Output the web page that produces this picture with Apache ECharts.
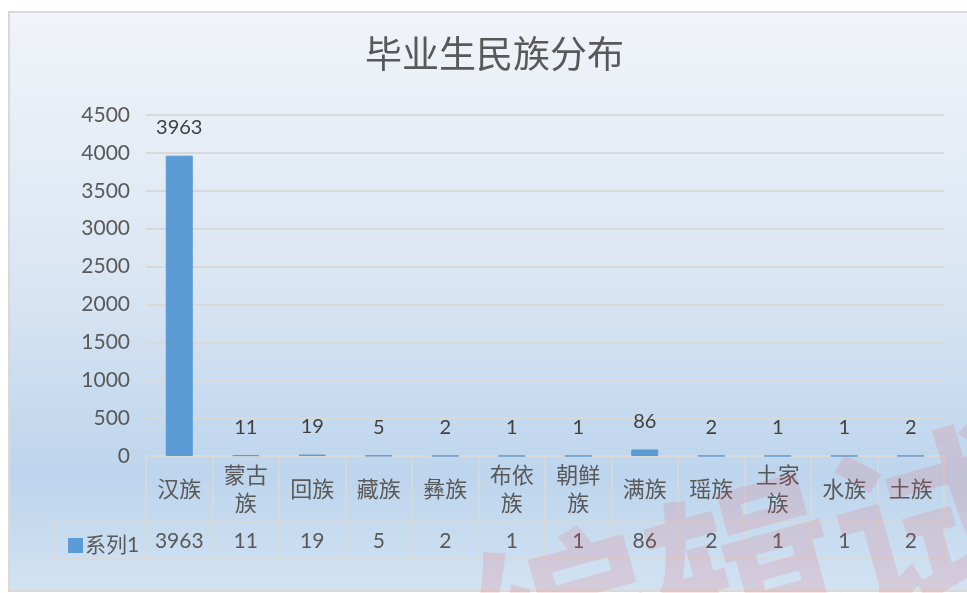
<!DOCTYPE html>
<html>
<head>
<meta charset="utf-8">
<script src="https://cdn.jsdelivr.net/npm/echarts@6/dist/echarts.min.js"></script>
<style>
html,body{margin:0;padding:0;background:#fff;}
#c{width:967px;height:593px;}
</style>
</head>
<body>
<div id="c"></div>
<script>
var categories = ['汉族','蒙古族','回族','藏族','彝族','布依族','朝鲜族','满族','瑶族','土家族','水族','土族'];
var categoryLabels = ['汉族','蒙古\n族','回族','藏族','彝族','布依\n族','朝鲜\n族','满族','瑶族','土家\n族','水族','土族'];
var values = [3963, 11, 19, 5, 2, 1, 1, 86, 2, 1, 1, 2];
var seriesName = '系列1';
var yTicks = [0, 500, 1000, 1500, 2000, 2500, 3000, 3500, 4000, 4500];
var titleText = '毕业生民族分布';

var FONT = 'Lato, "Noto Sans CJK SC", sans-serif';
var TXT = '#595959';
var LINE = '#d9d9d9';
var G = {left: 146, right: 23, top: 115, bottom: 137};
var ROW1 = 67, ROW2 = 36, LEG_LEFT = 55;
var H = 593, W = 967;
var axisY = H - G.bottom;

var chart = echarts.init(document.getElementById('c'), null, {renderer: 'canvas'});
var option = {
  animation: false,
  backgroundColor: '#ffffff',
  title: {
    text: titleText, left: 360, top: 33,
    textStyle: {fontFamily: FONT, fontSize: 37, fontWeight: 'normal', color: TXT}
  },
  legend: {
    data: [seriesName], left: 63, top: axisY + ROW1 + 7,
    icon: 'rect', itemWidth: 13, itemHeight: 13, itemGap: 4,
    textStyle: {fontFamily: FONT, fontSize: 21, color: TXT, padding: [0, 0, 0, -2]}
  },
  graphic: [
    {type: 'rect', z: -10, silent: true,
     shape: {x: 9, y: 12, width: W, height: H - 12 - 2},
     style: {
       fill: new echarts.graphic.LinearGradient(0, 0, 0, 1, [
         {offset: 0, color: '#f1f4f9'},
         {offset: 0.45, color: '#dbe6f3'},
         {offset: 0.8, color: '#bdd5ed'},
         {offset: 1, color: '#d2e2f2'}
       ]),
       stroke: LINE, lineWidth: 2
     }},
    {type: 'polyline', z: 5, silent: true,
     shape: {points: [[G.left, axisY + ROW1], [LEG_LEFT, axisY + ROW1], [LEG_LEFT, axisY + ROW1 + ROW2], [G.left, axisY + ROW1 + ROW2]]},
     style: {stroke: LINE, lineWidth: 1.5, fill: null}},
    {type: 'text', z: 100, silent: true,
     x: 745, y: 572, rotation: 0.27,
     style: {text: '编辑试', font: 'bold 188px "Noto Sans CJK SC"', fill: 'rgba(236,70,80,0.14)',
             align: 'center', verticalAlign: 'middle'}}
  ],
  grid: {left: G.left, right: G.right, top: G.top, bottom: G.bottom, containLabel: false},
  xAxis: [
    {type: 'category', data: categories, position: 'bottom',
     axisLine: {show: true, lineStyle: {color: LINE, width: 1.5}},
     axisTick: {show: true, length: ROW1, lineStyle: {color: LINE, width: 1.5}},
     axisLabel: {
       interval: 0, margin: ROW1 / 2, verticalAlign: 'middle',
       fontFamily: FONT, fontSize: 22, lineHeight: 28, color: TXT,
       formatter: function (v, i) { return categoryLabels[i]; }
     }},
    {type: 'category', data: categories, position: 'bottom', offset: ROW1,
     axisLine: {show: true, lineStyle: {color: LINE, width: 1.5}},
     axisTick: {show: true, length: ROW2, lineStyle: {color: LINE, width: 1.5}},
     axisLabel: {
       interval: 0, margin: ROW2 / 2, verticalAlign: 'middle',
       fontFamily: FONT, fontSize: 21, color: TXT,
       formatter: function (v, i) { return String(values[i]); }
     }},
    {type: 'category', data: categories, position: 'bottom', offset: ROW1 + ROW2,
     axisLine: {show: true, lineStyle: {color: LINE, width: 1.5}},
     axisTick: {show: false}, axisLabel: {show: false}}
  ],
  yAxis: {
    type: 'value', min: yTicks[0], max: yTicks[yTicks.length - 1], interval: yTicks[1] - yTicks[0],
    axisLine: {show: false}, axisTick: {show: false},
    axisLabel: {margin: 16, fontFamily: FONT, fontSize: 21, color: TXT,
                formatter: function (v) { return String(v); }},
    splitLine: {lineStyle: {color: LINE, width: 2}}
  },
  series: [{
    name: seriesName, type: 'bar', xAxisIndex: 0, data: values,
    barWidth: 27,
    itemStyle: {color: '#5b9bd5', borderColor: '#5b9bd5', borderWidth: 1},
    label: {show: true, position: 'top', distance: 18, fontFamily: FONT, fontSize: 20, color: '#404040'}
  }]
};
chart.setOption(option);
</script>
</body>
</html>
